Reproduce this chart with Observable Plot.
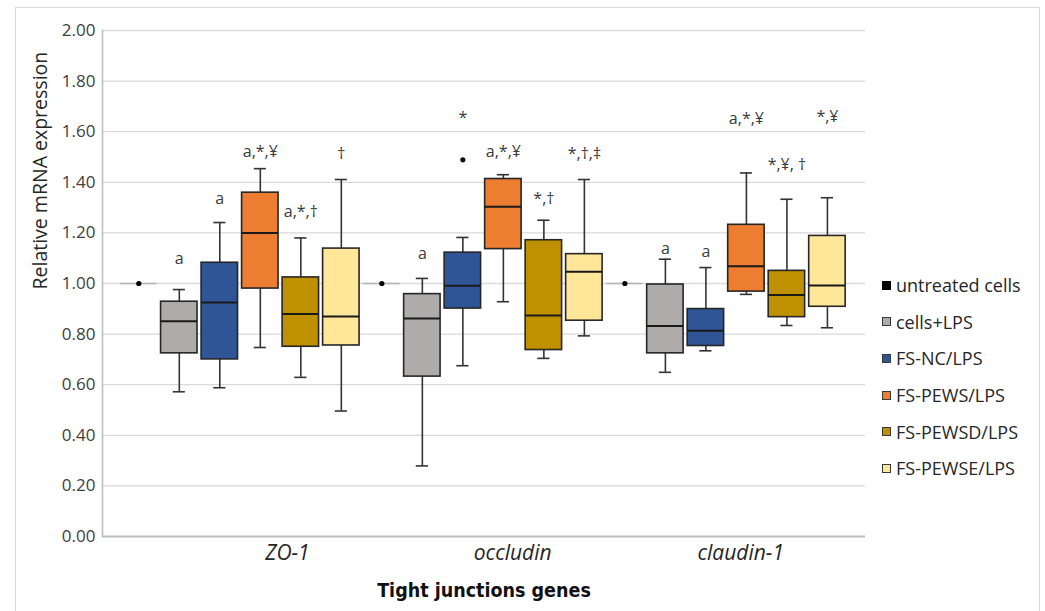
<!DOCTYPE html>
<html><head><meta charset="utf-8">
<script src="https://cdn.jsdelivr.net/npm/d3@7"></script>
<script src="https://cdn.jsdelivr.net/npm/@observablehq/plot@0.6"></script>
<style>
body{margin:0;background:#fff;font-family:"Open Sans",sans-serif;}
#wrap{position:relative;width:1045px;height:611px;overflow:hidden;background:#fff}
#frame{position:absolute;left:15px;top:7px;width:1025px;height:620px;border:1.5px solid #d9d9d9;box-sizing:border-box}
#chart{position:absolute;left:0;top:0}
#legend{position:absolute;left:882px;top:267px;}
.item{display:flex;align-items:center;height:36.6px;font-size:18px;color:#262626;white-space:nowrap}
.sw{width:7px;height:7px;border:1.5px solid #3a3a3a;margin-right:5px;flex:none}
</style></head><body>
<div id="wrap"><div id="frame"></div><div id="chart"></div><div id="legend"></div></div>
<script>
// ---- data ----
const genes = ["ZO-1", "occludin", "claudin-1"];
const groups = ["untreated cells", "cells+LPS", "FS-NC/LPS", "FS-PEWS/LPS", "FS-PEWSD/LPS", "FS-PEWSE/LPS"];
const groupColors = ["#000000", "#afabab", "#2f5597", "#ed7d31", "#bf9000", "#ffe699"];
// rows: genes, columns: groups
const whiskerLow  = [[1.00, 0.572, 0.588, 0.747, 0.629, 0.496],
                     [1.00, 0.279, 0.675, 0.928, 0.704, 0.793],
                     [1.00, 0.649, 0.734, 0.957, 0.834, 0.825]];
const quartile1   = [[1.00, 0.724, 0.700, 0.980, 0.750, 0.755],
                     [1.00, 0.632, 0.901, 1.136, 0.737, 0.853],
                     [1.00, 0.724, 0.753, 0.968, 0.867, 0.908]];
const medians     = [[1.00, 0.851, 0.925, 1.200, 0.879, 0.870],
                     [1.00, 0.862, 0.991, 1.303, 0.874, 1.046],
                     [1.00, 0.832, 0.813, 1.068, 0.955, 0.992]];
const quartile3   = [[1.00, 0.928, 1.082, 1.359, 1.024, 1.138],
                     [1.00, 0.958, 1.122, 1.413, 1.171, 1.116],
                     [1.00, 0.996, 0.899, 1.232, 1.050, 1.188]];
const whiskerHigh = [[1.00, 0.976, 1.241, 1.454, 1.180, 1.411],
                     [1.00, 1.020, 1.182, 1.430, 1.250, 1.411],
                     [1.00, 1.096, 1.063, 1.437, 1.333, 1.339]];
const outlierGene = ["occludin"];
const outlierGroup = ["FS-NC/LPS"];
const outlierValue = [1.489];
// significance labels and the value-height at which each is printed
const annotText = [["", "a", "a", "a,*,¥", "a,*,†", "†"],
                   ["", "a", "*", "a,*,¥", "*,†", "*,†,‡"],
                   ["", "a", "a", "a,*,¥", "*,¥, †", "*,¥"]];
const annotValue = [[null, 1.099, 1.336, 1.520, 1.283, 1.513],
                    [null, 1.118, 1.655, 1.520, 1.336, 1.513],
                    [null, 1.136, 1.125, 1.651, 1.467, 1.658]];
const yTicks = [0, 0.2, 0.4, 0.6, 0.8, 1.0, 1.2, 1.4, 1.6, 1.8, 2.0];

// ---- layout constants ----
const nG = groups.length;
const half = 0.45, capHalf = 0.15;
const geneLabelX = [3.67, 9.23, 14.86];

const rows = [];
genes.forEach((g, gi) => groups.forEach((grp, k) => {
  rows.push({gene: g, group: grp, pos: gi * nG + k,
    lo: whiskerLow[gi][k], q1: quartile1[gi][k], med: medians[gi][k],
    q3: quartile3[gi][k], hi: whiskerHigh[gi][k],
    label: annotText[gi][k], ly: annotValue[gi][k]});
}));
const boxes = rows.filter(d => d.group !== groups[0]);
const untreated = rows.filter(d => d.group === groups[0]);
const labels = rows.filter(d => d.label);
const outliers = outlierGene.map((g, i) => ({
  pos: genes.indexOf(g) * nG + groups.indexOf(outlierGroup[i]), v: outlierValue[i]}));

const chart = Plot.plot({
  width: 1045, height: 611,
  marginLeft: 102, marginRight: 180, marginTop: 30, marginBottom: 75,
  style: {fontFamily: "'Open Sans', sans-serif", background: "transparent"},
  x: {type: "linear", domain: [-0.896, 17.94], axis: null},
  y: {domain: [0, 2], axis: null},
  color: {type: "ordinal", domain: groups, range: groupColors},
  marks: [
    Plot.gridY(yTicks, {stroke: "#d9d9d9", strokeOpacity: 1, strokeWidth: 1.3}),
    Plot.axisY(yTicks, {tickSize: 0, tickPadding: 7, tickFormat: d => d.toFixed(2),
      fontSize: 17, fill: "#404040", label: null}),
    Plot.axisX(geneLabelX, {tickSize: 0, tickPadding: 9, tickFormat: d => genes[geneLabelX.indexOf(d)],
      fontSize: 21, fontStyle: "italic", fill: "#262626", label: null}),
    Plot.frame({anchor: "left", stroke: "#bfbfbf", strokeWidth: 1.6}),
    Plot.ruleY([0], {stroke: "#bfbfbf", strokeWidth: 2.2}),
    // untreated: collapsed box at 1.00
    Plot.ruleY(untreated, {x1: d => d.pos - half, x2: d => d.pos + half, y: "med", stroke: "#b3b3b3", strokeWidth: 1.5}),
    Plot.dot(untreated, {x: "pos", y: "med", r: 2.6, fill: "group", stroke: null}),
    // whiskers
    Plot.ruleX(boxes, {x: "pos", y1: "lo", y2: "hi", stroke: "#333", strokeWidth: 1.6}),
    Plot.ruleY(boxes, {x1: d => d.pos - capHalf, x2: d => d.pos + capHalf, y: "hi", stroke: "#333", strokeWidth: 1.6}),
    Plot.ruleY(boxes, {x1: d => d.pos - capHalf, x2: d => d.pos + capHalf, y: "lo", stroke: "#333", strokeWidth: 1.6}),
    // boxes
    Plot.rect(boxes, {x1: d => d.pos - half, x2: d => d.pos + half, y1: "q1", y2: "q3",
      fill: "group", stroke: "#262626", strokeWidth: 1.6}),
    Plot.ruleY(boxes, {x1: d => d.pos - half, x2: d => d.pos + half, y: "med", stroke: "#1a1a1a", strokeWidth: 2}),
    Plot.dot(outliers, {x: "pos", y: "v", r: 2.6, fill: "#111"}),
    Plot.text(labels, {x: "pos", y: "ly", text: "label", fontSize: 16, fill: "#3a3a3a", lineAnchor: "middle"}),
    Plot.text(["Relative mRNA expression"], {text: d => d, frameAnchor: "left", dx: -62, dy: 6, rotate: -90,
      fontSize: 19.5, fill: "#262626"}),
    Plot.text(["Tight junctions genes"], {text: d => d, frameAnchor: "bottom", dy: 54, lineAnchor: "middle",
      fontSize: 19.5, fontWeight: "bold", fill: "#111",
      fontFamily: "'Liberation Sans Narrow', 'DejaVu Sans Condensed', sans-serif"})
  ]
});
document.getElementById("chart").appendChild(chart);

const legend = document.getElementById("legend");
groups.forEach((g, i) => {
  const it = document.createElement("div");
  it.className = "item";
  const sw = document.createElement("span");
  sw.className = "sw";
  sw.style.background = groupColors[i];
  if (i === 0) sw.style.borderColor = "#000";
  const tx = document.createElement("span");
  tx.textContent = g;
  it.appendChild(sw); it.appendChild(tx);
  legend.appendChild(it);
});
</script>
</body></html>
